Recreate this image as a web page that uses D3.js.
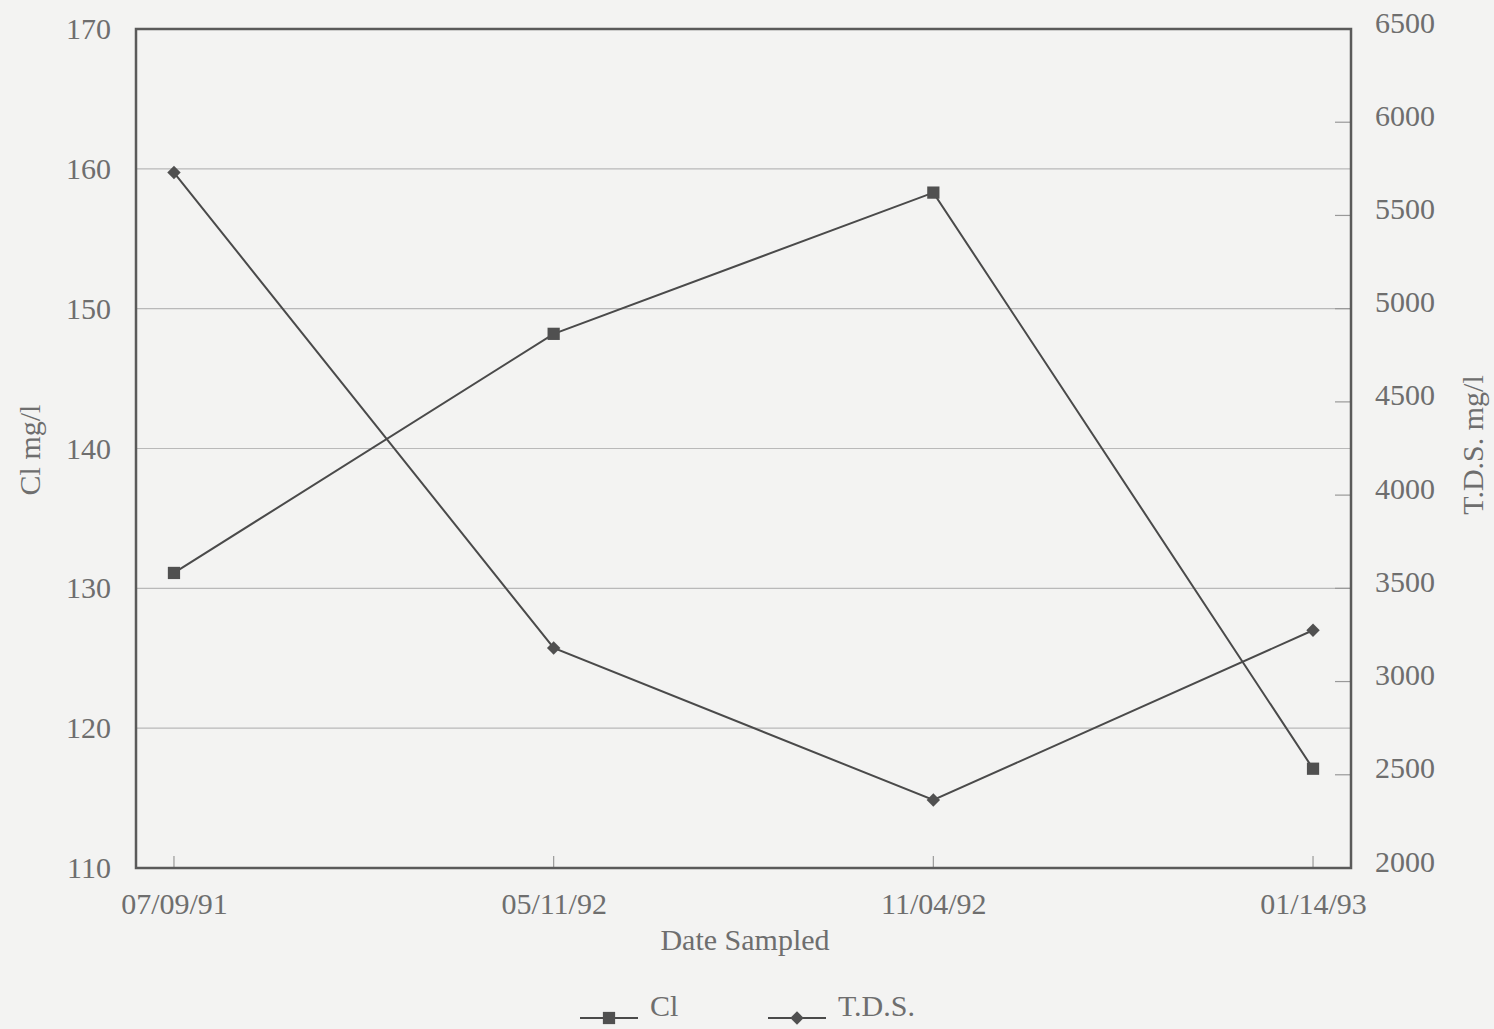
<!DOCTYPE html>
<html><head><meta charset="utf-8">
<script src="https://cdn.jsdelivr.net/npm/d3@7"></script>
<style>body{margin:0;background:#f3f3f2;}svg{display:block;}</style>
</head><body>
<script>
const dates = ["07/09/91","05/11/92","11/04/92","01/14/93"];
const clValues = [131.1, 148.2, 158.3, 117.1];
const tdsValues = [5730, 3180, 2365, 3275];
const leftTicks = [110,120,130,140,150,160,170];
const rightTicks = [2000,2500,3000,3500,4000,4500,5000,5500,6000,6500];

const W=1494,H=1029;
const m={l:136,r:1351,t:29,b:868};
const font="'Liberation Serif','Times New Roman',serif";
const txt="#6e6e6e", ink="#4a4a4a";
const svg=d3.select("body").append("svg").attr("width",W).attr("height",H);
svg.append("rect").attr("width",W).attr("height",H).attr("fill","#f3f3f2");

const x=d3.scalePoint().domain(dates).range([m.l,m.r]).padding(0.1);
const yL=d3.scaleLinear().domain([110,170]).range([m.b,m.t]);
const yR=d3.scaleLinear().domain([2000,6500]).range([m.b,m.t]);

// gridlines
svg.append("g").selectAll("line").data(leftTicks.filter(t=>t>110&&t<170)).join("line")
 .attr("x1",m.l).attr("x2",m.r).attr("y1",d=>yL(d)).attr("y2",d=>yL(d))
 .attr("stroke","#b9b9b9").attr("stroke-width",1.2);

// left axis
const gL=svg.append("g").attr("transform",`translate(${m.l},0)`)
 .call(d3.axisLeft(yL).tickValues(leftTicks).tickSize(0).tickPadding(25).tickFormat(d3.format("d")));
gL.select(".domain").remove();
gL.selectAll("text").attr("font-family",font).attr("font-size",30).attr("fill",txt);

// right axis
const gR=svg.append("g").attr("transform",`translate(${m.r},0)`)
 .call(d3.axisRight(yR).tickValues(rightTicks).tickSize(0).tickPadding(24).tickFormat(d3.format("d")));
gR.select(".domain").remove();
gR.selectAll("text").attr("font-family",font).attr("font-size",30).attr("fill",txt).attr("dy","0.1em");
svg.append("g").selectAll("line").data(rightTicks.filter(t=>t>2000&&t<6500)).join("line")
 .attr("x1",m.r-16).attr("x2",m.r).attr("y1",d=>yR(d)).attr("y2",d=>yR(d))
 .attr("stroke","#999").attr("stroke-width",1.2);

// bottom axis
const gB=svg.append("g").attr("transform",`translate(0,${m.b})`)
 .call(d3.axisBottom(x).tickSize(0).tickPadding(25));
gB.select(".domain").remove();
gB.selectAll("text").attr("font-family",font).attr("font-size",30).attr("fill",txt);
svg.append("g").selectAll("line").data(dates).join("line")
 .attr("x1",d=>x(d)).attr("x2",d=>x(d)).attr("y1",m.b-12).attr("y2",m.b)
 .attr("stroke","#999").attr("stroke-width",1.2);

// frame
svg.append("rect").attr("x",m.l).attr("y",m.t).attr("width",m.r-m.l).attr("height",m.b-m.t)
 .attr("fill","none").attr("stroke","#5a5a5a").attr("stroke-width",2.5);

// axis titles
svg.append("text").attr("transform",`translate(40,450) rotate(-90)`).attr("text-anchor","middle")
 .attr("font-family",font).attr("font-size",30).attr("fill",txt).text("Cl mg/l");
svg.append("text").attr("transform",`translate(1483,445) rotate(-90)`).attr("text-anchor","middle")
 .attr("font-family",font).attr("font-size",30).attr("fill",txt).text("T.D.S. mg/l");
svg.append("text").attr("x",745).attr("y",950).attr("text-anchor","middle")
 .attr("font-family",font).attr("font-size",30).attr("fill",txt).text("Date Sampled");

// series
const clData=dates.map((d,i)=>({d,v:clValues[i]}));
const tdsData=dates.map((d,i)=>({d,v:tdsValues[i]}));
svg.append("path").datum(clData).attr("fill","none").attr("stroke",ink).attr("stroke-width",2)
 .attr("d",d3.line().x(p=>x(p.d)).y(p=>yL(p.v)));
svg.append("path").datum(tdsData).attr("fill","none").attr("stroke",ink).attr("stroke-width",2)
 .attr("d",d3.line().x(p=>x(p.d)).y(p=>yR(p.v)));
const sq=d3.symbol().type(d3.symbolSquare).size(150);
const dm=d3.symbol().type(d3.symbolSquare).size(90);
svg.append("g").selectAll("path").data(clData).join("path")
 .attr("transform",p=>`translate(${x(p.d)},${yL(p.v)})`).attr("d",sq).attr("fill","#505050");
svg.append("g").selectAll("path").data(tdsData).join("path")
 .attr("transform",p=>`translate(${x(p.d)},${yR(p.v)}) rotate(45)`).attr("d",dm).attr("fill","#505050");

// legend
const legend=[{name:"Cl",sym:sq,rot:0,x0:580},{name:"T.D.S.",sym:dm,rot:45,x0:768}];
const lg=svg.append("g").selectAll("g").data(legend).join("g").attr("transform",d=>`translate(${d.x0},1010)`);
lg.append("line").attr("x1",0).attr("x2",58).attr("y1",8).attr("y2",8).attr("stroke",ink).attr("stroke-width",2);
lg.append("path").attr("d",d=>d.sym()).attr("transform",d=>`translate(29,8) rotate(${d.rot})`).attr("fill","#505050");
lg.append("text").attr("x",70).attr("y",6).attr("font-family",font).attr("font-size",30).attr("fill",txt).text(d=>d.name);
</script>
</body></html>
